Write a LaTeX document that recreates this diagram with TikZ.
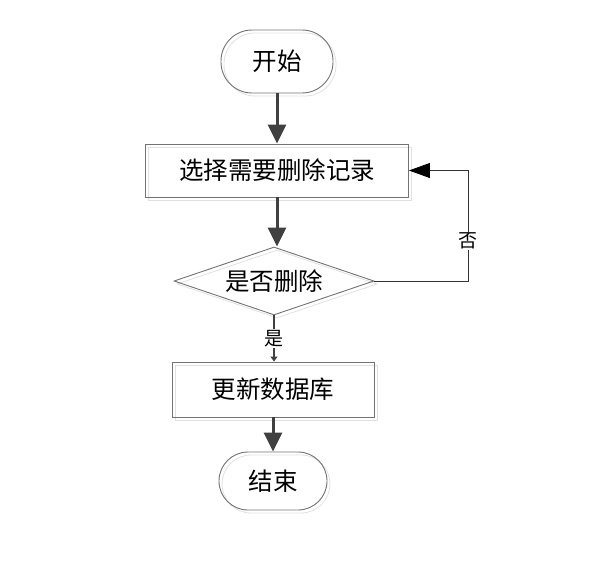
\documentclass[tikz,border=0pt]{standalone}
\usepackage{fontspec}
\newfontfamily\cjk{Noto Sans CJK SC}
\usetikzlibrary{shapes.geometric,arrows.meta}
\tikzset{
  ghost/.style={preaction={draw=black!12, line width=0.8pt, transform canvas={shift={(3pt,-3pt)}}}},
  term/.style={draw=black!55, line width=0.9pt, ghost, inner sep=0pt, font=\cjk\fontsize{24.5}{28}\selectfont},
  proc/.style={draw=black!55, line width=0.9pt, ghost, inner sep=0pt, font=\cjk\fontsize{24.5}{28}\selectfont},
  judgebox/.style={draw=black!55, line width=0.9pt, ghost, shape=diamond, aspect=2.94, inner sep=0pt,
    minimum width=200pt, minimum height=68pt, font=\cjk\fontsize{24.5}{28}\selectfont},
  flow/.style={draw=black!75, line width=3pt, -{Triangle[length=19pt,width=18pt]}},
  back/.style={draw=black!80, line width=0.8pt, -{Triangle[length=21pt,width=15pt,color=black]}},
  yes/.style={draw=black!75, line width=1.6pt, -{Triangle[length=5pt,width=7pt]}},
  lab/.style={fill=white, inner sep=1pt, font=\cjk\fontsize{19}{22}\selectfont}
}
\begin{document}
\begin{tikzpicture}[x=1pt,y=-1pt]
    \useasboundingbox (0,0) rectangle (611,578);
    % steps
    \node[term, minimum width=112pt, minimum height=63pt, rounded corners=31pt] (start) at (277,61.5) {开始};
    \node[proc, minimum width=263pt, minimum height=53pt] (select) at (277,170.5) {选择需要删除记录};
    \node[judgebox] (judge) at (274,281) {是否删除};
    \node[proc, minimum width=202pt, minimum height=55pt] (update) at (273,389.5) {更新数据库};
    \node[term, minimum width=108pt, minimum height=58pt, rounded corners=29pt] (stop) at (273,481) {结束};
    \coordinate (corner) at (468,281);
    % connectors
    \draw[flow] (start) -- (select);
    \draw[flow] (select.south) -- (select.south |- judge.north);
    \draw[yes] (judge.south) -- node[lab] {是} (judge.south |- update.north);
    \draw[flow] (update.south) -- (update.south |- stop.north);
    \draw[back] (judge.east) -- (corner) |- node[lab, pos=0.18] {否} (select.east);
\end{tikzpicture}
\end{document}
